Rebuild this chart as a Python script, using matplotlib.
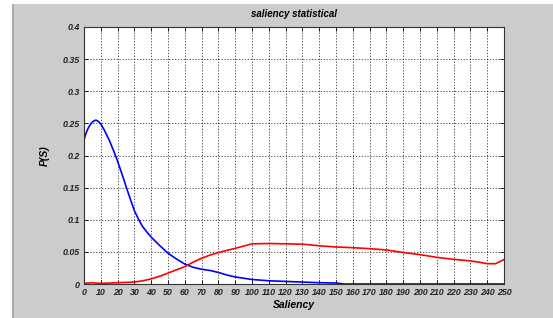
import numpy as np
import matplotlib.pyplot as plt
from matplotlib.patches import Rectangle

# saliency values
blue_x = [0, 1, 2, 3, 4, 5, 6, 7, 8, 9, 10, 12, 15, 18, 20, 23, 25, 28, 30, 33,
          35, 38, 40, 45, 50, 55, 60, 65, 70, 75, 80, 85, 90, 95,
          100, 110, 120, 130, 140, 150, 155, 200, 250]
blue_y = [0.224, 0.233, 0.240, 0.245, 0.249, 0.252, 0.254, 0.255, 0.254, 0.252,
          0.249, 0.240, 0.224, 0.205, 0.191, 0.168, 0.152, 0.129, 0.114, 0.098,
          0.089, 0.079, 0.073, 0.060, 0.048, 0.039, 0.031, 0.026, 0.023, 0.021,
          0.018, 0.014, 0.011, 0.009,
          0.007, 0.005, 0.004, 0.003, 0.002, 0.0015, 0.0, 0.0, 0.0]

red_x = [0, 5, 10, 20, 30, 35, 40, 45, 50, 55, 60, 65, 70, 75, 80, 90, 95, 100,
         110, 120, 130, 140, 150, 160, 170, 180, 190, 200, 210, 220, 230, 235,
         240, 245, 250]
red_y = [0.001, 0.002, 0.001, 0.002, 0.003, 0.005, 0.008, 0.012, 0.017, 0.022,
         0.027, 0.034, 0.040, 0.045, 0.049, 0.0555, 0.059, 0.0625,
         0.063, 0.0625, 0.062, 0.0595, 0.0576, 0.0565, 0.055, 0.053, 0.049,
         0.0457, 0.0415, 0.0384, 0.036, 0.034, 0.0316, 0.0316, 0.038]

xticks = list(range(0, 251, 10))
yticks = [0, 0.05, 0.1, 0.15, 0.2, 0.25, 0.3, 0.35, 0.4]
ytick_labels = ['0', '0.05', '0.1', '0.15', '0.2', '0.25', '0.3', '0.35', '0.4']

fnt = ['Liberation Sans Narrow', 'Liberation Sans', 'DejaVu Sans']
plt.rcParams['font.family'] = fnt

fig = plt.figure(figsize=(5.53, 3.18), dpi=100)
fig.patch.set_facecolor('white')
# gray panel with a white strip on top and left
fig.patches.append(Rectangle((13 / 553, 0), 1, 1 - 4 / 318, transform=fig.transFigure,
                             facecolor='#cccccc', edgecolor='none', zorder=-2))
fig.patches.append(Rectangle((12 / 553, 0), 2 / 553, 1 - 4 / 318, transform=fig.transFigure,
                             facecolor='#a8a8a8', edgecolor='none', zorder=-1))

ax = fig.add_axes([84 / 553, 1 - 284 / 318, 420 / 553, 257 / 318])
ax.set_facecolor('white')

ax.plot(blue_x, blue_y, color='#0000ff', lw=1.2)
ax.plot(red_x, red_y, color='#ff0000', lw=1.2)

ax.set_xlim(0, 250)
ax.set_ylim(0, 0.4)
ax.set_xticks(xticks)
ax.set_xticklabels([str(t) for t in xticks])
ax.set_yticks(yticks)
ax.set_yticklabels(ytick_labels)

for lab in ax.get_xticklabels() + ax.get_yticklabels():
    lab.set_fontsize(6.4)
    lab.set_fontweight('bold')
    lab.set_fontstyle('italic')
    lab.set_color('#222222')

ax.tick_params(direction='in', length=3, width=0.6, top=True, right=True, pad=3)
ax.grid(True, color='black', linestyle=(0, (1.5, 2)), linewidth=0.6, alpha=0.8)
for s in ax.spines.values():
    s.set_color('#333333')
    s.set_linewidth(0.8)

ax.set_title('saliency statistical', fontsize=7, fontweight='bold', style='italic', pad=7)
ax.set_xlabel('Saliency', fontsize=7.5, fontweight='bold', style='italic', labelpad=2)
ax.set_ylabel('P(S)', fontsize=7.5, fontweight='bold', style='italic', labelpad=9)

fig.savefig('out.png', dpi=100)
